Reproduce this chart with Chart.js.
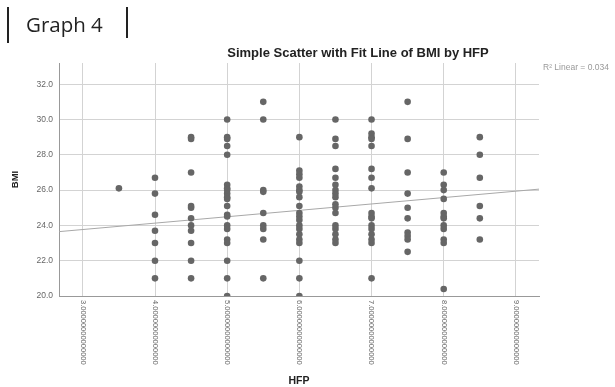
<!DOCTYPE html>
<html>
<head>
<meta charset="utf-8">
<script src="https://cdn.jsdelivr.net/npm/chart.js@4"></script>
<style>
  body { margin: 0; background: #fff; }
  #wrap { position: relative; width: 615px; height: 387px; }
  #heading { position: absolute; left: 26px; top: 10px; font: 20.5px "Open Sans", sans-serif; color: #222; }
  .bar { position: absolute; width: 2px; background: #222; }
</style>
</head>
<body>
<div id="wrap">
  <div class="bar" style="left:7px; top:7px; height:36px;"></div>
  <div id="heading">Graph 4</div>
  <div class="bar" style="left:126px; top:7px; height:31px;"></div>
  <canvas id="scatterChart" width="615" height="387"></canvas>
</div>
<script>
// HFP levels and the BMI values observed at each level
const hfpLevels = [3.5, 4, 4.5, 5, 5.5, 6, 6.5, 7, 7.5, 8, 8.5];
const bmiByLevel = [
  [26.1],
  [26.7, 25.8, 24.6, 23.7, 23.0, 22.0, 21.0],
  [29.0, 28.9, 27.0, 25.1, 25.0, 24.4, 24.0, 23.7, 23.0, 22.0, 21.0],
  [30.0, 29.0, 28.9, 28.5, 28.0, 26.3, 26.1, 26.0, 25.8, 25.6, 25.5, 25.1, 24.6, 24.5, 24.0, 23.8, 23.2, 23.0, 22.0, 21.0, 20.0],
  [31.0, 30.0, 26.0, 25.9, 24.7, 24.0, 23.8, 23.2, 21.0],
  [29.0, 27.1, 26.9, 26.7, 26.2, 26.0, 25.9, 25.6, 25.1, 24.7, 24.5, 24.3, 24.0, 23.8, 23.5, 23.2, 23.0, 22.0, 21.0, 20.0],
  [30.0, 28.9, 28.5, 27.2, 26.7, 26.3, 26.0, 25.8, 25.6, 25.2, 25.0, 24.7, 24.0, 23.8, 23.5, 23.2, 23.0],
  [30.0, 29.2, 29.0, 28.9, 28.5, 27.2, 26.7, 26.1, 24.7, 24.5, 24.4, 24.0, 23.8, 23.5, 23.2, 23.0, 21.0],
  [31.0, 28.9, 27.0, 25.8, 25.0, 24.4, 23.6, 23.4, 23.2, 22.5],
  [27.0, 26.3, 26.0, 25.5, 24.7, 24.5, 24.4, 24.0, 23.8, 23.2, 23.0, 20.4],
  [29.0, 28.0, 26.7, 25.1, 24.4, 23.2]
];

// linear fit (R² = 0.034)
const fitIntercept = 22.68;
const fitSlope = 0.362;

// axis ranges and tick labels
const xRange = [2.67, 9.32];
const yRange = [20, 33.2];
const xTickLabels = ['3.00000000000000', '4.00000000000000', '5.00000000000000',
  '6.00000000000000', '7.00000000000000', '8.00000000000000', '9.00000000000000'];

const points = [];
hfpLevels.forEach((h, i) => {
  bmiByLevel[i].forEach(b => points.push({ x: h, y: b }));
});
const fitPoints = xRange.map(x => ({ x: x, y: fitIntercept + fitSlope * x }));

// SPSS style: title, R² note and vertical tick labels
const decorations = {
  id: 'decorations',
  afterDraw(chart) {
    const ctx = chart.ctx;
    const sx = chart.scales.x;
    ctx.save();
    ctx.fillStyle = '#222';
    ctx.font = 'bold 13px "Liberation Sans", Arial, sans-serif';
    ctx.textAlign = 'center';
    ctx.textBaseline = 'middle';
    ctx.fillText('Simple Scatter with Fit Line of BMI by HFP', 358, 53);

    ctx.fillStyle = '#999';
    ctx.font = '8.5px "Liberation Sans", Arial, sans-serif';
    ctx.textAlign = 'left';
    ctx.fillText('R\u00b2 Linear = 0.034', 543, 68);

    ctx.fillStyle = '#666';
    ctx.font = '7.5px "Liberation Sans", Arial, sans-serif';
    sx.ticks.forEach((t, i) => {
      const x = sx.getPixelForValue(t.value);
      ctx.save();
      ctx.translate(x, sx.top + 4);
      ctx.rotate(Math.PI / 2);
      ctx.fillText(xTickLabels[i], 0, 0);
      ctx.restore();
    });
    ctx.restore();
  }
};

new Chart(document.getElementById('scatterChart'), {
  type: 'scatter',
  data: {
    datasets: [{
      label: 'BMI',
      data: points,
      backgroundColor: '#666666',
      borderWidth: 0,
      pointRadius: 3.3,
      order: 1
    }, {
      label: 'Fit',
      data: fitPoints,
      showLine: true,
      borderColor: '#a8a8a8',
      borderWidth: 1,
      pointRadius: 0,
      order: 2
    }]
  },
  options: {
    responsive: false,
    animation: false,
    layout: { padding: { left: 0, right: 76, top: 63, bottom: 0 } },
    plugins: {
      legend: { display: false },
      tooltip: { enabled: false }
    },
    scales: {
      x: {
        type: 'linear',
        min: xRange[0],
        max: xRange[1],
        afterFit: scale => { scale.height = 91; },
        ticks: {
          stepSize: 1,
          includeBounds: false,
          autoSkip: false,
          maxRotation: 0,
          callback: () => ''
        },
        grid: { color: '#d3d3d3', drawTicks: false },
        border: { color: '#999' },
        title: {
          display: true,
          text: 'HFP',
          color: '#222',
          font: { family: '"Liberation Sans", Arial, sans-serif', size: 10.5, weight: 'bold' },
          padding: { top: 0, bottom: 0 }
        }
      },
      y: {
        min: yRange[0],
        max: yRange[1],
        afterFit: scale => { scale.width = 59; },
        ticks: {
          stepSize: 2,
          includeBounds: false,
          padding: 6,
          color: '#666',
          font: { family: '"Liberation Sans", Arial, sans-serif', size: 8.5 },
          callback: v => v.toFixed(1)
        },
        grid: { color: '#d3d3d3', drawTicks: false },
        border: { color: '#999' },
        title: {
          display: true,
          text: 'BMI',
          color: '#222',
          font: { family: '"Liberation Sans", Arial, sans-serif', size: 9.5, weight: 'bold' },
          padding: { top: 10, bottom: 0 }
        }
      }
    }
  },
  plugins: [decorations]
});
</script>
</body>
</html>
